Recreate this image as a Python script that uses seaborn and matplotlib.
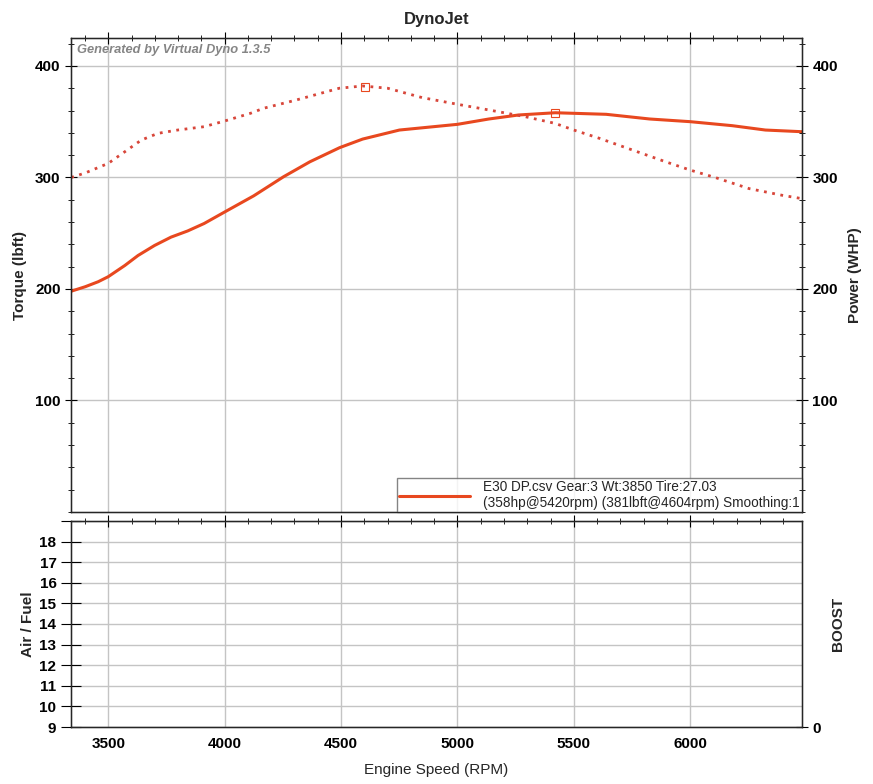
import numpy as np
import pandas as pd
import seaborn as sns
import matplotlib.pyplot as plt
from matplotlib.ticker import MultipleLocator, FixedLocator

# values
rpm_tq = [3341, 3401, 3500, 3571, 3642, 3713, 3798, 3912, 4000, 4111, 4167, 4300,
          4493, 4593, 4700, 4848, 5000, 5135, 5291, 5419, 5500, 5611, 5753, 5895,
          6000, 6111, 6253, 6395, 6480]
torque = [300, 304, 312.6, 323, 333.5, 339.5, 342.5, 345.5, 350.6, 357.5, 362, 369,
          380, 382, 380, 371.6, 365.6, 360.5, 354.5, 348.5, 342.5, 335, 324.5, 314,
          306.6, 299.7, 290, 284, 281]

rpm_hp = [3341, 3401, 3457, 3500, 3571, 3628, 3699, 3770, 3841, 3912, 4000, 4125,
          4253, 4366, 4494, 4593, 4751, 5000, 5135, 5263, 5420, 5500, 5639, 5826,
          6000, 6181, 6323, 6480]
power = [198, 202, 206.5, 211, 221, 230, 239, 246.5, 252, 258.7, 269, 283.5,
         300.6, 314, 326.7, 334.4, 342.5, 347.6, 352.4, 356, 358, 357.5, 356.6, 352.4,
         350, 346.4, 342.5, 341]

peak_hp = (5420, 358)
peak_tq = (4604, 381)

legend_text = ("E30 DP.csv Gear:3 Wt:3850 Tire:27.03\n"
               "(358hp@5420rpm) (381lbft@4604rpm) Smoothing:1")

sns.set_style("white")
plt.rcParams['font.family'] = ['Liberation Sans', 'DejaVu Sans']

line_color = "#e8481f"
tq_color = "#d8463a"

fig = plt.figure(figsize=(8.73, 7.84), dpi=100)
ax = fig.add_axes([0.0813, 0.3469, 0.8373, 0.6046])
ax2 = fig.add_axes([0.0813, 0.0727, 0.8373, 0.2628])

tq_df = pd.DataFrame({"rpm": rpm_tq, "val": torque})
hp_df = pd.DataFrame({"rpm": rpm_hp, "val": power})

sns.lineplot(data=hp_df, x="rpm", y="val", ax=ax, color=line_color, lw=2.2)
sns.lineplot(data=tq_df, x="rpm", y="val", ax=ax, color=tq_color, lw=2.0,
             linestyle=(0, (1, 2.0)))
ax.plot(*peak_hp, marker="s", ms=6, mfc="none", mec=line_color, mew=0.8)
ax.plot(*peak_tq, marker="s", ms=6, mfc="none", mec=line_color, mew=0.8)

xlim = (3340, 6480)
for a in (ax, ax2):
    a.set_xlim(*xlim)
    a.xaxis.set_major_locator(MultipleLocator(500))
    a.xaxis.set_minor_locator(MultipleLocator(100))
    a.grid(True, which="major", color="#c4c4c4", lw=1)
    a.set_axisbelow(True)
    for s in a.spines.values():
        s.set_color("black")
        s.set_linewidth(1)
    a.tick_params(which="both", direction="inout", top=True, colors="black",
                  labelsize=11)
    a.tick_params(which="major", length=8)
    a.tick_params(which="minor", length=5)
    a.set_xlabel("")
    a.set_ylabel("")

ax.set_ylim(0, 425)
ax.yaxis.set_major_locator(FixedLocator([100, 200, 300, 400]))
ax.yaxis.set_minor_locator(MultipleLocator(20))
ax.tick_params(axis="x", labelbottom=False)
for lab in ax.get_yticklabels():
    lab.set_fontweight("bold")

axr = ax.twinx()
axr.set_ylim(0, 425)
axr.yaxis.set_major_locator(FixedLocator([100, 200, 300, 400]))
axr.yaxis.set_minor_locator(MultipleLocator(20))
axr.tick_params(which="both", direction="inout", colors="black", labelsize=11)
axr.tick_params(which="major", length=8)
axr.tick_params(which="minor", length=5)
for lab in axr.get_yticklabels():
    lab.set_fontweight("bold")
axr.set_ylabel("Power (WHP)", fontsize=11, fontweight="bold", labelpad=7)
ax.set_ylabel("Torque (lbft)", fontsize=11, fontweight="bold", labelpad=6)

ax.text(0.008, 0.988, "Generated by Virtual Dyno 1.3.5", transform=ax.transAxes,
        ha="left", va="top", fontsize=9.3, style="italic", color="#858585",
        fontweight="bold")

leg = ax.legend([plt.Line2D([], [], color=line_color, lw=2.2)], [legend_text],
                loc="lower right", bbox_to_anchor=(1.0, 0.0), frameon=True,
                fancybox=False, fontsize=9.8, handlelength=5.2, borderpad=0.15,
                handletextpad=1.0, borderaxespad=0)
leg.get_frame().set_edgecolor("#666666")
leg.get_frame().set_linewidth(1)

ax.set_title("DynoJet", fontsize=12, fontweight="bold", pad=10)

ax2.set_ylim(9, 19)
ax2.yaxis.set_major_locator(MultipleLocator(1))
ax2.yaxis.set_major_formatter(plt.FuncFormatter(lambda v, p: f"{int(v)}" if v <= 18 else ""))
ax2.tick_params(axis="y", which="major", length=14)
for lab in ax2.get_yticklabels() + ax2.get_xticklabels():
    lab.set_fontweight("bold")
ax2.set_ylabel("Air / Fuel", fontsize=11, fontweight="bold", labelpad=3)
ax2.set_xlabel("Engine Speed (RPM)", fontsize=11, labelpad=8)

ax2r = ax2.twinx()
ax2r.set_ylim(0, 1)
ax2r.yaxis.set_major_locator(FixedLocator([0]))
ax2r.tick_params(direction="inout", length=8, colors="black", labelsize=11)
for lab in ax2r.get_yticklabels():
    lab.set_fontweight("bold")
ax2r.set_ylabel("BOOST", fontsize=11, fontweight="bold", labelpad=7)

fig.savefig("out.png", dpi=100)
